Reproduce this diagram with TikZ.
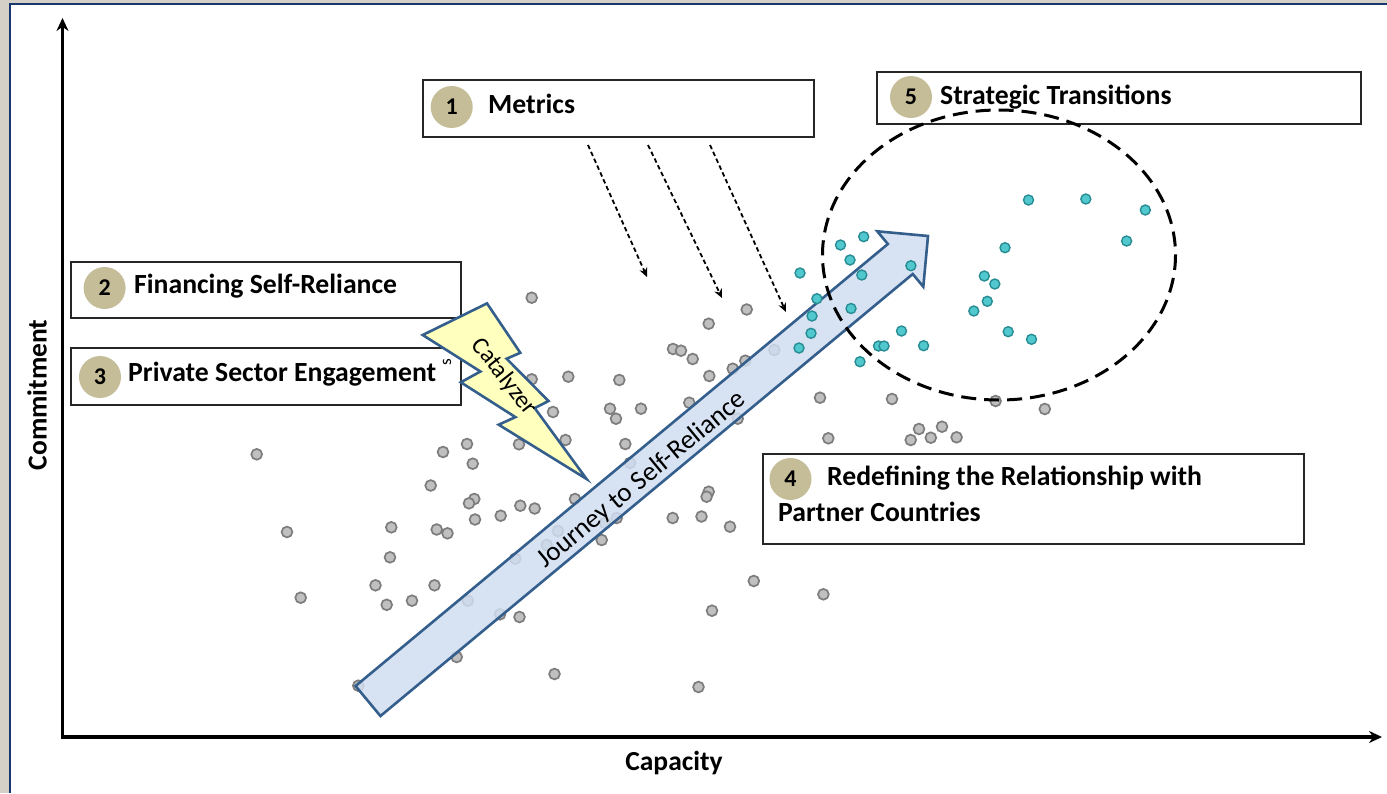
\documentclass[tikz,border=0pt]{standalone}
\usepackage{fontspec}
\setmainfont{Carlito}
\usetikzlibrary{arrows.meta}
\definecolor{bggray}{RGB}{212,208,200}
\definecolor{framebl}{RGB}{23,55,110}
\definecolor{tanc}{RGB}{196,189,151}
\definecolor{arrfill}{RGB}{208,222,240}
\definecolor{arredge}{RGB}{52,94,140}
\definecolor{boltfill}{RGB}{255,255,190}
\definecolor{dotfill}{RGB}{192,192,192}
\definecolor{dotedge}{RGB}{125,125,125}
\definecolor{tealfill}{RGB}{80,200,206}
\definecolor{tealedge}{RGB}{40,140,148}
\tikzset{
  lbox/.style={draw=black!85, line width=2.2pt, fill=white, inner sep=0pt},
  badge/.style={circle, fill=tanc, minimum size=42pt, inner sep=0pt, font=\fontsize{24}{24}\selectfont\bfseries},
  lbl/.style={anchor=west, inner sep=0pt, font=\fontsize{27.7}{30}\selectfont\bfseries},
  gdot/.style={draw=dotedge, fill=dotfill, line width=1.7pt},
  tdot/.style={draw=tealedge, fill=tealfill, line width=1.4pt},
  axis/.style={line width=3.5pt, -{Stealth[length=13pt,width=12pt]}},
  metarrow/.style={line width=1.8pt, dash pattern=on 4.5pt off 3pt, -{Stealth[length=9pt,width=8pt]}},
  shapeedge/.style={draw=arredge, line width=2.6pt, line join=miter}
}
\begin{document}
\begin{tikzpicture}[x=1pt,y=-1pt]
\useasboundingbox (0,0) rectangle (1387,793);
% frame
\fill[bggray] (0,0) rectangle (1387,793);
\fill[white] (10,4) rectangle (1387,793);
\draw[framebl, line width=2.5pt] (10,793) -- (10,4) -- (1387,4);

% axes
\coordinate (ytop) at (62.5,18);
\coordinate (xend) at (1382,737);
\draw[axis] (62.5,739) -- (ytop);
\draw[axis] (60.75,737) -- (xend);
\node[font=\fontsize{27.5}{30}\selectfont\bfseries] (xlab) at (674,763) {Capacity};
\node[font=\fontsize{27.5}{30}\selectfont\bfseries, rotate=90] (ylab) at (37,395) {Commitment};

% gray dots
\foreach \x/\y in {531.7/297.7, 746.7/309.5, 708.7/323.7, 673/349, 681/350.7, 692.7/359,
  732.7/368.7, 745.3/360.7, 774.3/350, 709.3/376, 568.3/376.7, 619.3/380, 531.7/379.3,
  553/412, 610/408.7, 616/418.7, 641/408.7, 689.3/402.7, 737.7/418.7, 625.3/444, 565.5/440,
  820/397.7, 828.3/438.3, 892/399, 995.6/401, 1044.8/409, 919/429, 942/426.7, 910.7/440,
  930.8/437.7, 956.6/437.3, 708.7/491.7, 706.6/496.7, 701.5/516.5, 730/526.7, 753.8/581,
  823.4/594.3, 712/610.7, 256.7/454.3, 287/532, 300.7/597.7, 443/452, 467/444, 472.7/463.7,
  430.7/485.5, 474.3/499, 469/503.3, 475/519.5, 500.7/515.7, 520.3/505.7, 534.7/508.5,
  519/444.3, 531.7/438.3, 630/463, 575/499, 558/531, 546.7/545, 601.7/540, 616.7/518,
  605/523, 672.7/518, 391.3/527.3, 436.7/529.5, 447.5/533.3, 390/557.3, 375.5/585.3,
  434.5/585.3, 386.7/604.8, 412/600.7, 515.3/558.7, 467.8/600.7, 500/614.3, 519.5/617,
  456.7/657, 554.5/674, 358.3/685.7, 698.5/687}
  \draw[gdot] (\x,\y) circle[radius=5.4];

% metric dashed arrows
\coordinate (ma1) at (588,145); \coordinate (mb1) at (647,277);
\coordinate (ma2) at (648,145); \coordinate (mb2) at (722,298);
\coordinate (ma3) at (710,145); \coordinate (mb3) at (786,312);
\draw[metarrow] (ma1) -- (mb1);
\draw[metarrow] (ma2) -- (mb2);
\draw[metarrow] (ma3) -- (mb3);

% boxes 1,2,3
\node[lbox, minimum width=391pt, minimum height=57pt] (box1) at (618.5,108.5) {};
\node[badge] (b1) at (451.7,107) {1};
\node[lbl] (t1) at (488,104) {Metrics};

\node[lbox, minimum width=390pt, minimum height=56pt] (box2) at (266,290) {};
\node[badge] (b2) at (104.6,288) {2};
\node[lbl] (t2) at (134,286) {Financing Self-Reliance};

\node[lbox, minimum width=390pt, minimum height=57pt] (box3) at (266,376.5) {};
\node[badge] (b3) at (100,377) {3};
\node[lbl] (t3) at (128,374) {Private Sector Engagement};
\node[font=\fontsize{17}{17}\selectfont, rotate=90, inner sep=0pt] (t3s) at (447,362) {s};

% lightning bolt
\draw[shapeedge, fill=boltfill] (487.0,303.4) -- (520.3,352.8) -- (506.6,358.7) -- (548.5,401.0)
  -- (534.7,408.1) -- (586.6,479.0) -- (498.7,424.7) -- (515.4,417.1) -- (460.8,382.3)
  -- (480.4,371.5) -- (422.75,335.0) -- cycle;
\node[font=\fontsize{24.5}{24}\selectfont, rotate=-52, inner sep=0pt] (cat) at (504,377) {Catalyzer};

% big arrow
\draw[shapeedge, fill=arrfill, fill opacity=0.85] (355.55,686) -- (887.85,244) -- (877.3,231.3)
  -- (928,236) -- (923.3,286.7) -- (912.75,274) -- (380.45,716) -- cycle;
\node[font=\fontsize{27}{27}\selectfont, rotate=39.6, inner sep=0pt] (journey) at (642,480) {Journey to Self-Reliance};

% teal dots
\foreach \x/\y in {800/273, 816.9/298.7, 812/316, 811/333.3, 799/348, 840.5/245, 850/260,
  863.7/236.7, 861.8/275, 851/308.5, 860/361.7, 878.5/346, 884/346, 901.5/331, 923.6/345.7,
  910.9/265.7, 1028.5/200, 1085.8/199, 1145.3/210, 1126.6/241, 1005/247.7, 984.3/276,
  994.8/284, 987.3/301.3, 973.8/311, 1008.2/331.7, 1031.5/339.3}
  \draw[tdot] (\x,\y) circle[radius=5];

% box 5
\node[lbox, minimum width=484pt, minimum height=52pt] (box5) at (1119,98) {};
\node[badge] (b5) at (911,97) {5};
\node[lbl] (t5) at (940,97) {Strategic Transitions};

% box 4
\node[lbox, minimum width=541pt, minimum height=90pt] (box4) at (1033.5,499) {};
\node[badge] (b4) at (790.5,479) {4};
\node[lbl] (t4a) at (827,478) {Redefining the Relationship with};
\node[lbl] (t4b) at (778,511.5) {Partner Countries};

% dashed ellipse
\draw[dash pattern=on 15pt off 8pt, line width=3pt] (999,255) ellipse [x radius=176.5, y radius=145];
\end{tikzpicture}
\end{document}
